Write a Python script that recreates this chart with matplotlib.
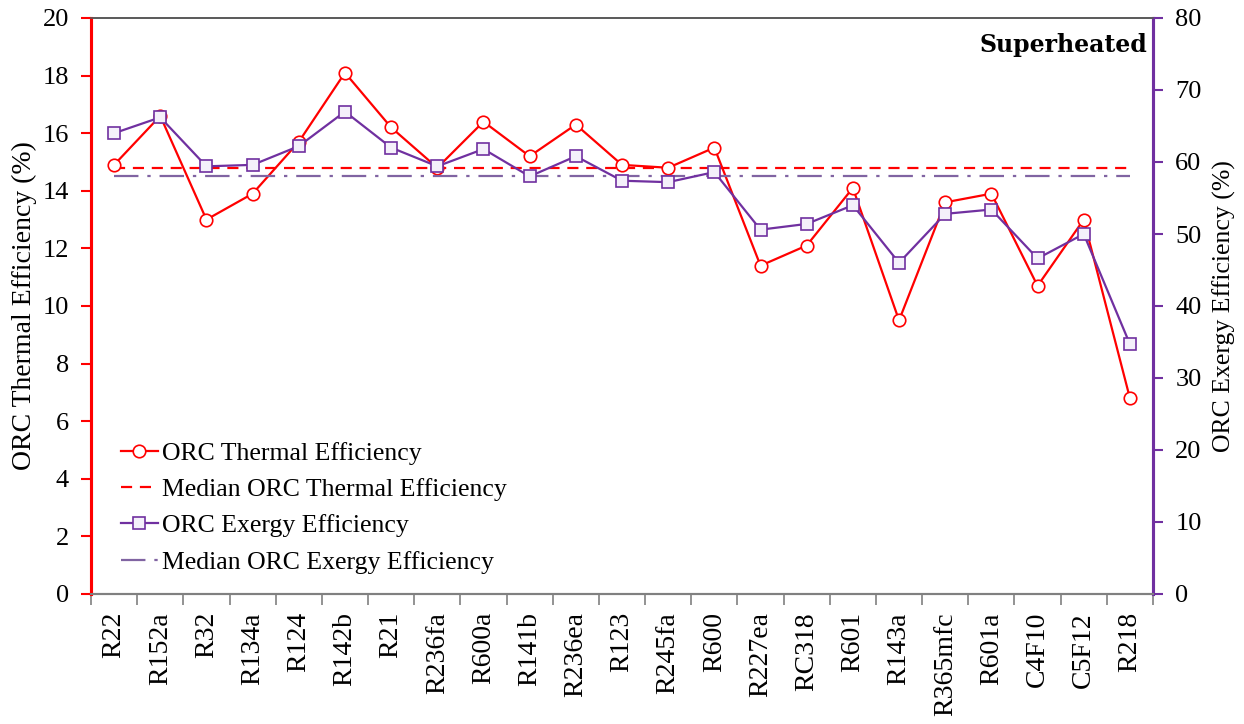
import numpy as np
import matplotlib
matplotlib.use("Agg")
import matplotlib.pyplot as plt

refrigerants = ["R22", "R152a", "R32", "R134a", "R124", "R142b", "R21", "R236fa",
                "R600a", "R141b", "R236ea", "R123", "R245fa", "R600", "R227ea",
                "RC318", "R601", "R143a", "R365mfc", "R601a", "C4F10", "C5F12", "R218"]
thermal_eff = [14.9, 16.6, 13.0, 13.9, 15.7, 18.1, 16.2, 14.8, 16.4, 15.2, 16.3, 14.9,
               14.8, 15.5, 11.4, 12.1, 14.1, 9.5, 13.6, 13.9, 10.7, 13.0, 6.8]
exergy_eff = [64.0, 66.2, 59.4, 59.6, 62.2, 67.0, 62.0, 59.4, 61.8, 58.0, 60.8, 57.4,
              57.2, 58.6, 50.6, 51.4, 54.0, 46.0, 52.8, 53.4, 46.6, 50.0, 34.7]

plt.rcParams['font.family'] = ['Liberation Serif', 'DejaVu Serif']

RED = "#FF0000"
PURPLE = "#7030A0"
LPURPLE = "#8064A2"
GRAY = "#808080"

fig = plt.figure(figsize=(12.44, 7.24), dpi=100)
ax = fig.add_axes([91/1244, 130/724, (1153-91)/1244, (594-18)/724])
ax2 = ax.twinx()

n = len(refrigerants)
x = np.arange(n)
med_t = np.median(thermal_eff)
med_e = np.median(exergy_eff)

l1, = ax.plot(x, thermal_eff, color=RED, lw=1.6, marker='o', ms=9,
              mfc='white', mec=RED, mew=1.2, label="ORC Thermal Efficiency", zorder=3)
l2, = ax.plot(x, [med_t]*n, color=RED, lw=1.6, dashes=(5, 3.5),
              label="Median ORC Thermal Efficiency", zorder=2)
l4, = ax2.plot(x, [med_e]*n, color=LPURPLE, lw=1.6, dashes=(11, 4, 1.5, 4),
               label="Median ORC Exergy Efficiency", zorder=2)
l3, = ax2.plot(x, exergy_eff, color=PURPLE, lw=1.6, marker='s', ms=9,
               mfc='#F4F0FA', mec=PURPLE, mew=1.2, label="ORC Exergy Efficiency", zorder=3)

ax.set_xlim(-0.5, n - 0.5)
ax.set_ylim(0, 20)
ax2.set_ylim(0, 80)
ax.set_yticks(np.arange(0, 21, 2))
ax2.set_yticks(np.arange(0, 81, 10))

ax.set_xticks(x)
ax.set_xticklabels(refrigerants, rotation=90, fontsize=20, va='top', ha='center')
ax.set_xticks(np.arange(-0.5, n, 1.0), minor=True)
ax.tick_params(axis='x', which='major', length=0, pad=13)
ax.tick_params(axis='x', which='minor', length=8, color=GRAY, width=1.2, direction='out')

ax.tick_params(axis='y', labelcolor='black', labelsize=19, length=7, width=1.5,
               direction='out', color=RED, pad=9)
ax2.tick_params(axis='y', labelsize=19, length=7, width=1.5, direction='out',
                color=PURPLE, pad=9)

for a in (ax, ax2):
    a.spines['left'].set_color(RED)
    a.spines['left'].set_linewidth(2.2)
    a.spines['right'].set_color(PURPLE)
    a.spines['right'].set_linewidth(2.2)
    a.spines['top'].set_color('#595959')
    a.spines['top'].set_linewidth(1.2)
    a.spines['bottom'].set_color(GRAY)
    a.spines['bottom'].set_linewidth(1.5)

ax.set_ylabel("ORC Thermal Efficiency (%)", fontsize=20, labelpad=4)
ax2.set_ylabel("ORC Exergy Efficiency (%)", fontsize=18.5, labelpad=8)

ax2.text(0.9945, 0.953, "Superheated", transform=ax.transAxes, ha='right', va='center',
         fontsize=17, fontweight='bold', family=['DejaVu Serif'])

leg = ax2.legend(handles=[l1, l2, l3, l4], loc='lower left', bbox_to_anchor=(0.028, 0.035),
                 frameon=False, fontsize=18.5, handlelength=1.45, handletextpad=0.15,
                 labelspacing=0.52, borderaxespad=0, borderpad=0)

fig.savefig("out.png", dpi=100, facecolor='white')
